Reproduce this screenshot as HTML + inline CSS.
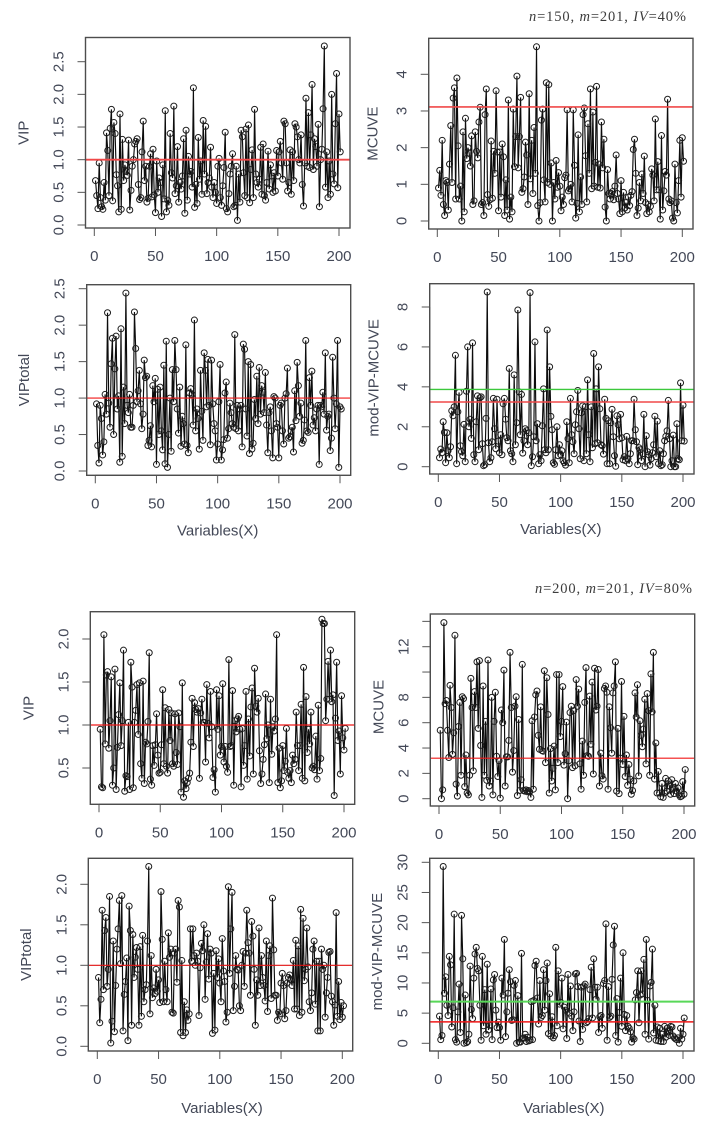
<!DOCTYPE html>
<html lang="en">
<head>
<meta charset="utf-8">
<title>VIP and MCUVE variable selection plots</title>
<style>
html,body{margin:0;padding:0;background:#fff;}
svg{display:block;filter:blur(0.35px);}
text{font-family:"Liberation Sans",Arial,sans-serif;font-size:15px;fill:#434857;}
.note,.note tspan{font-family:"Liberation Serif","DejaVu Serif",serif;font-size:14.5px;fill:#3c3c3c;}
</style>
</head>
<body>
<svg id="figure" xmlns="http://www.w3.org/2000/svg" width="716" height="1128" viewBox="0 0 716 1128">
<rect width="716" height="1128" fill="#fff"/>
<text class="note" x="529" y="21" textLength="157" lengthAdjust="spacing"><tspan font-style="italic">n</tspan>=150, <tspan font-style="italic">m</tspan>=201, <tspan font-style="italic">IV</tspan>=40%</text>
<text class="note" x="535" y="593" textLength="157" lengthAdjust="spacing"><tspan font-style="italic">n</tspan>=200, <tspan font-style="italic">m</tspan>=201, <tspan font-style="italic">IV</tspan>=80%</text>
</svg>
<script>
const xTicks=[0,50,100,150,200];

const vipA=[.68,.45,.25,.95,.42,.28,.24,.65,.38,1.41,1.14,.45,1.48,1.77,.37,1.57,1.40,.77,.60,.20,
1.70,.24,1.31,.68,.92,.82,.76,1.30,.23,.53,.90,1.00,1.24,1.28,1.32,.62,.39,.42,1.12,1.59,
.68,.90,.35,.41,.90,1.09,.43,1.16,.46,.19,.98,.50,.72,.65,.13,.92,.40,1.75,.20,.38,
.30,1.40,.80,.72,1.82,.48,.60,1.20,.35,.65,.55,.75,1.32,.18,1.45,.38,1.05,.78,.82,.58,
2.10,.27,.62,.33,1.34,.70,.98,.47,1.60,.78,1.51,.48,.65,.72,1.19,.58,.42,.65,.50,.33,
.90,1.02,.42,.30,.60,.88,1.42,.25,.20,.48,.78,.90,1.09,.28,.30,.90,.07,.78,.35,1.45,
1.35,.80,.45,1.47,.42,1.53,.34,.85,1.15,.42,1.77,.78,.65,.58,.70,1.19,.47,1.24,.45,.38,
.65,1.13,.55,.92,.75,.50,.80,.52,1.14,.75,1.12,1.28,.95,.70,1.59,1.55,.95,.52,.65,1.15,
.47,1.12,.68,1.55,1.50,1.35,1.00,.95,1.38,.62,.29,.95,1.94,.90,1.72,.88,1.38,2.15,.85,1.32,
1.20,.90,1.54,.28,1.00,1.16,1.78,2.74,.58,1.12,.42,.98,.47,2.00,.78,.63,1.55,2.32,.57,1.70,1.12];

const mcuveA=[.90,1.38,.70,2.2,.45,.15,1.1,1.05,.3,1.55,2.6,1.05,3.35,3.63,.6,3.9,2.05,.6,.95,0,
2.43,.25,2.8,1.7,2.0,1.85,1.5,2.32,.45,.55,2.43,1.9,1.72,2.7,3.1,.45,.5,.15,2.9,3.6,
.72,.4,.58,2.18,.62,1.9,1.3,3.55,1.88,.28,1.88,.65,2.1,1.75,.15,1.12,.3,3.3,.05,.65,
.25,3.05,1.48,2.3,3.95,1.45,2.3,3.37,.78,.88,1.2,2.15,1.8,.45,3.47,1.15,2.2,.75,2.55,1.3,
4.75,.42,0,.5,2.75,3.05,1.12,.52,3.77,1.05,3.72,1.0,1.58,0,1.05,.6,1.65,.92,1.32,.95,
.28,.65,.45,1.18,1.25,3.03,.82,.88,1.0,.52,3.03,1.52,.08,.48,2.35,.25,1.2,.45,2.9,3.08,
1.78,.52,2.65,1.3,3.6,.88,2.97,.95,1.6,3.67,.92,1.55,.9,2.7,1.45,2.23,.38,0,1.4,.75,
.6,.75,.8,.58,.95,1.8,.75,.6,.2,1.1,.25,.78,.35,.5,.3,.65,.42,.7,.8,1.95,
2.23,1.3,.15,.35,1.05,.55,1.28,.75,1.77,.5,.2,.45,.25,.4,1.42,1.25,.55,2.78,.85,1.62,
.85,.05,2.33,.3,.82,1.35,1.25,3.32,.6,.5,.55,.08,0,1.55,.5,.22,1.1,2.2,.65,2.27,1.63];

const vipTotalA=[.92,.35,.11,.9,.72,.22,.4,1.05,.78,2.17,.93,.6,1.47,1.82,.5,1.4,1.85,.85,1.03,.12,
1.95,.2,1.15,.65,2.44,.9,.8,1.05,.6,.6,.9,2.18,1.68,.95,1.1,1.38,.92,.58,.78,1.52,
1.28,1.3,.35,.42,.62,.33,1.17,.95,1.27,.09,1.12,.5,1.15,.55,.29,1.45,.1,1.78,.05,.5,
1.0,.27,1.39,.95,1.79,1.39,.85,.52,1.15,.34,.75,.65,.37,1.73,.35,.25,1.07,1.13,1.05,.63,
2.07,.55,.85,.72,.3,1.38,.82,.42,1.62,1.38,.88,1.53,.9,.36,1.52,.92,.65,.55,.15,.37,
.95,1.46,.15,.29,.43,1.07,1.22,.45,.58,.93,.8,.65,.6,1.87,.58,.9,.55,.85,.9,.33,
1.74,1.67,.85,.48,1.5,.24,1.46,.3,.38,.98,.72,1.3,.65,1.42,.78,1.17,1.08,.8,1.35,.63,
.25,.8,.88,.55,.18,1.02,1.0,.65,.6,.18,.9,.93,.55,.37,1.0,1.06,1.41,.45,.47,.55,
.6,.26,1.1,.69,1.49,1.17,.75,.93,.38,.42,.7,1.79,.55,.53,1.28,.9,1.37,.63,.73,.55,
.85,.9,.09,.9,.88,1.08,.78,1.62,.56,.75,.78,.28,.45,1.56,1.0,.58,.92,1.79,.05,.88,.85];

const modA=[.45,.88,.7,2.25,1.72,.2,1.7,.8,.45,1.0,2.8,2.55,3.0,5.58,.15,2.75,3.72,1.05,.75,.55,
2.12,.25,3.78,6.0,2.0,2.38,1.42,6.2,.6,.25,2.25,3.55,.85,3.45,3.5,1.15,.05,.1,2.42,8.75,
1.2,.25,.45,1.25,3.42,1.9,.9,3.38,1.28,.7,1.6,.6,3.15,3.42,2.38,1.45,1.3,4.92,.8,.65,
.25,4.6,1.1,2.2,7.85,3.75,1.6,3.62,.68,1.3,1.9,1.8,1.1,1.7,8.72,.05,.5,1.5,6.25,1.3,
2.15,.15,.6,.3,2.05,3.9,.85,.7,6.85,.85,5.0,2.52,1.85,.2,.12,.85,2.0,.55,1.1,.6,
.8,.3,.2,.08,2.25,1.4,.2,3.42,1.6,1.25,.65,2.1,2.75,3.82,1.9,.4,2.7,3.05,.3,3.0,
.65,4.35,1.6,.25,3.0,.95,5.67,1.15,3.9,1.2,5.0,2.9,1.1,1.05,.63,3.38,2.42,.15,2.3,.15,
2.2,2.87,1.5,.55,.02,2.55,2.1,1.4,2.62,1.45,.35,.5,.3,1.52,.4,.15,.65,1.3,1.3,3.38,
1.85,1.25,.1,.95,.85,.3,.65,2.62,0,1.55,.75,.6,.08,.4,.7,1.1,2.53,.5,2.28,.15,
.8,.05,.1,.65,1.3,1.52,1.8,3.32,1.4,0,.3,1.58,0,0,2.15,.4,.35,4.2,1.3,3.08,1.28];

const vipB=[.95,.28,.27,2.05,.78,1.58,1.62,.73,1.05,1.56,.3,.5,1.65,.25,.74,1.12,1.49,.76,1.05,1.87,
.23,.41,.4,1.03,.25,1.73,1.44,.27,1.03,1.17,1.47,.89,1.49,.55,.38,1.51,.32,.8,.78,1.04,
1.84,.37,.3,.76,.53,.77,1.13,.65,.44,.45,.77,1.41,.55,1.2,.52,.44,1.18,.82,1.14,.55,
.52,1.13,.68,.54,1.14,.98,.22,1.49,.16,.35,.26,.33,.38,.44,.8,1.31,.75,1.26,1.18,1.15,
1.19,.38,1.14,1.3,1.03,1.03,.57,1.47,1.02,.85,1.39,.98,.39,.48,.22,1.41,.95,1.34,.65,.75,
1.48,.57,.75,.52,.45,1.76,.75,.76,1.4,.3,1.05,.92,1.07,1.1,.95,.28,.96,.53,.76,1.39,
.37,1.07,.64,1.21,1.43,.43,1.66,1.22,1.15,1.31,.7,.32,.43,.6,.77,1.36,.84,1.0,.33,1.3,
.66,.98,.93,1.07,2.05,.33,.73,.27,.35,.76,.47,.58,.96,.45,.38,.47,.33,.65,.55,.6,
1.15,.76,.47,.76,1.24,.38,1.67,.35,1.33,.68,.95,.78,1.15,.5,.52,.48,.87,.37,1.23,.47,
.61,2.23,2.18,2.18,1.05,1.3,1.74,1.3,1.87,1.27,1.35,.18,1.08,1.73,.82,.93,.43,1.34,.85,.71,.96];

const mcuveB=[5.4,0,.7,13.9,7.5,7.75,5.4,3.25,8.95,7.2,3.5,5.2,12.9,1.15,.2,5.7,7.6,1.85,8.05,7.9,
.95,3.45,.45,.3,1.85,9.5,7.2,2.2,8.45,7.2,10.8,5.55,10.9,4.2,.1,8.9,1.85,6.1,1.45,10.95,
1,1.4,8,.3,6.1,8.4,3.35,1.75,3,.05,7,6,10.15,1,3.3,3.3,4.6,11.55,7.2,2.1,
3.8,7.3,8.05,.25,6.25,.65,1.5,10.6,.65,.6,.7,.55,.65,.55,.1,6.15,.75,6.45,8.2,8.5,
5,3.9,7.25,3.8,3.75,10.1,2.85,9.55,6.65,.45,3.95,1.4,2.4,4.15,.7,9.8,2.85,9.8,4.9,6.1,
8.85,2.65,3.55,6.05,0,3,6.8,7.3,2.45,6.95,2.6,9.4,7.3,8.65,2.75,.75,4.55,1.85,7.6,10.35,
3.4,3.35,8.1,4.3,9.2,1.95,10.3,7,7.3,10.2,1,3.6,1.8,1.55,8.7,8.9,8.4,.75,7.25,5.6,
3.6,8.35,8.9,10.8,.6,5.55,.4,3.2,9.25,2.7,6.5,1.75,3.45,1.05,2.7,1.55,.35,.65,1.4,8.35,
6.45,9,1.8,6.15,5,4.1,5.5,7.85,2.75,8.3,6.95,1.85,9.85,6.85,11.55,1.55,4.4,.45,2.15,.45,
.15,1.2,.1,.45,1.6,.6,1.4,1,.35,1.5,.9,.4,1.2,.6,.85,.3,.15,.2,1.35,.35,2.3];

const vipTotalB=[.85,.29,.58,1.68,.7,1.43,1.59,.74,.95,1.85,.04,.31,1.3,.18,.75,1.2,1.45,1.8,1.02,1.86,
.19,.64,.8,1.09,.07,1.73,1.43,.26,1.38,.85,1.1,1.22,.95,.26,1.23,.37,1.37,.55,.7,.76,
1.3,2.22,.4,1.12,.6,.72,.65,.95,.68,.82,.54,1.91,1.32,.55,1.05,.7,.55,1.4,1.1,1.2,
.42,.41,1.15,1.2,.79,1.8,1.72,.17,1.06,.13,.55,.17,.45,.32,.4,1.45,1.05,1.45,1.12,1.0,
1.15,1.05,.38,.97,1.27,1.18,1.5,.58,1.04,1.39,.83,1.2,1.15,.16,.9,.2,1.18,.85,1.08,.78,
.55,1.33,.93,.8,.3,.42,1.97,.9,1.45,1.9,.44,.74,1.12,.95,.94,.5,.44,1.0,1.17,.74,
1.15,1.68,1.28,1.15,.63,1.54,1.36,.95,.26,.82,.63,1.46,.75,1.12,.85,.75,.56,1.3,.43,1.12,
1.24,.59,1.83,1.19,.63,.63,.32,.42,.4,.78,.9,.75,.34,.44,.78,.85,.88,.82,.75,1.06,
.46,1.31,.46,1.24,.38,1.69,.42,1.58,.81,.95,1.46,.98,.55,.44,.66,1.2,1.3,.52,1.05,.19,
1.05,.19,1.2,.95,1.0,.36,.66,.85,1.16,1.17,.62,.55,.26,.51,1.65,.37,.8,.33,.54,.36,.5];

const modB=[4.5,.6,1.3,29.3,8.3,11,6.3,4.6,14.4,13,2.7,5.9,21.4,.6,.2,5.2,9.8,1.8,21.2,14,
0,8,.1,.3,1.5,12.8,5.6,4.1,10.8,14.8,15.9,12.4,12,6.3,.5,14.4,2.9,8.9,1.5,13.1,
2.2,3,9,.6,10.5,11.4,5.5,2.6,3.5,2.6,.5,10.8,8,17.2,1.1,5.2,8.3,12.2,10.2,3.8,
3.9,9.6,10.4,0,7.9,.2,.2,14.9,.8,.9,1.5,.3,1,.4,.5,6.9,.6,7.1,12.9,13.6,
7.5,3.2,10.4,4.3,4.6,12.2,5.5,10.4,13.3,1.6,8.2,1.2,4.4,.9,1.3,15.9,2.9,12,6.5,6.8,
10.8,2.4,6,5.5,.8,11.4,5,9.5,4.5,2.1,5.2,11.5,11.6,9.4,3.7,.3,9.3,2.3,9.5,9.8,
3.4,3.6,4.1,8.9,12.6,4.2,14,9.3,7.3,9.3,1.8,4.4,4.6,2.5,9.9,10.4,19.8,.5,9.4,4.3,
4.5,10.6,16.3,19.4,1.3,7.4,.2,5.1,10.8,2.8,15,4.8,2.1,4.6,2.8,2.5,1.9,.2,.9,.7,
7.2,8.4,12,3.4,8,12,8.2,13.9,1.5,17.2,7.1,.7,9.5,10.1,15.6,1.7,6.3,.5,2.7,.4,
2.5,.3,1.5,.3,2.8,1,2.5,2,1.3,2.8,2.7,1.2,.9,.7,.6,.9,0,2.5,.7,1.5,4.2];

const vipTickValues=["0.0","0.5","1.0","1.5","2.0","2.5"];
const mcuveTickValues=["0","1","2","3","4"];
const modATickValues=["0","2","4","6","8"];
const vipBTickValues=["0.5","1.0","1.5","2.0"];
const vipTotalBTickValues=["0.0","0.5","1.0","1.5","2.0"];
const mcuveBTicks=[0,2,4,6,8,10,12,14];
const mcuveBTickLabels=["0","2","4","6","8","","12",""];
const modBTickValues=["0","5","10","15","20","25","30"];

const vipAThreshold=[1.0];
const mcuveAThreshold=[3.11];
const vipTotalAThreshold=[1.0];
const modARedThreshold=[3.24];
const modAGreenThreshold=[3.87];
const vipBThreshold=[1.0];
const mcuveBThreshold=[3.2];
const vipTotalBThreshold=[1.0];
const modBRedThreshold=[3.55];
const modBGreenThreshold=[6.9];

const svg=document.getElementById('figure');
const NS='http://www.w3.org/2000/svg';

function mk(tag,attrs,parent){
  const e=document.createElementNS(NS,tag);
  for(const k in attrs)e.setAttribute(k,attrs[k]);
  parent.appendChild(e);
  return e;
}

function drawPanel(p){
  const g=mk('g',{},svg);
  
  
  const sx=v=>p.x0+(p.x200-p.x0)*v/200;
  const sy=v=>p.yA+(p.yB-p.yA)*(v-p.vA)/(p.vB-p.vA);

  // x axis
  const xAxis=mk('g',{},g);
  
  
  mk('line',{x1:sx(xTicks[0]),x2:sx(xTicks[xTicks.length-1]),y1:p.bottom,y2:p.bottom,stroke:'#555','stroke-width':1},xAxis);
  xTicks.forEach(t=>{
    mk('line',{x1:sx(t),x2:sx(t),y1:p.bottom,y2:p.bottom+8,stroke:'#555','stroke-width':1},xAxis);
    const lab=mk('text',{x:sx(t),y:p.bottom+33,'text-anchor':'middle'},xAxis);
    
    
    lab.textContent=t;
  });

  // y axis
  const yAxis=mk('g',{},g);
  
  
  const yv=p.yTicks.map(Number);
  mk('line',{x1:p.left,x2:p.left,y1:sy(yv[0]),y2:sy(yv[yv.length-1]),stroke:'#555','stroke-width':1},yAxis);
  yv.forEach((t,i)=>{
    const py=sy(t);
    mk('line',{x1:p.left-8,x2:p.left,y1:py,y2:py,stroke:'#555','stroke-width':1},yAxis);
    const txt=p.yLabels[i];
    if(txt!==''){
      const lab=mk('text',{transform:'translate('+(p.left-22)+' '+py+') rotate(-90)','text-anchor':'middle'},yAxis);
      
      
      lab.textContent=txt;
    }
  });

  // y axis title
  const yTitle=mk('text',{transform:'translate('+(p.left-p.titleOffset)+' '+((p.top+p.bottom)/2+(p.titleDy||0))+') rotate(-90)','text-anchor':'middle'},g);
  
  
  yTitle.textContent=p.yTitle;

  // x axis title
  if(p.xTitle){
    const xTitle=mk('text',{x:(p.left+p.right)/2+p.xTitleDx,y:p.bottom+p.xTitleOffset,'text-anchor':'middle'},g);
    
    
    xTitle.textContent=p.xTitle;
  }

  // series line
  const pts=p.values.map((v,i)=>sx(i+1).toFixed(2)+','+sy(v).toFixed(2)).join(' ');
  const line=mk('polyline',{points:pts,fill:'none',stroke:'#0c0c0c','stroke-width':1.15},g);
  
  

  // series points
  const ptsGroup=mk('g',{},g);
  
  
  p.values.forEach((v,i)=>{
    const c=mk('circle',{cx:sx(i+1),cy:sy(v),r:3,fill:'none',stroke:'#1c1c1c','stroke-width':1},ptsGroup);
    
    
  });

  // threshold lines
  p.thresholds.forEach(th=>{
    const l=mk('line',{x1:p.left,x2:p.right,y1:sy(th.value[0]),y2:sy(th.value[0]),stroke:th.color,'stroke-width':th.width},g);
    
    
  });

  // box
  const box=mk('rect',{x:p.left,y:p.top,width:p.right-p.left,height:p.bottom-p.top,fill:'none',stroke:'#4d4d4d','stroke-width':1.4},g);
  
  
}

const RED='#f01818',SOFTRED='#f04848',GREEN='#3cc83c';

drawPanel({name:'vip-40',values:vipA,left:85.5,right:350,top:37.5,bottom:228,x0:94.3,x200:339,
  vA:0,yA:225,vB:2.5,yB:61.7,yTicks:vipTickValues,yLabels:vipTickValues,yTitle:'VIP',titleOffset:57,titleDy:0,
  thresholds:[{value:vipAThreshold,color:SOFTRED,label:'red',width:1.8}]});
drawPanel({name:'mcuve-40',values:mcuveA,left:428.7,right:693,top:38.3,bottom:229,x0:437.3,x200:682.3,
  vA:0,yA:221,vB:4,yB:74.3,yTicks:mcuveTickValues,yLabels:mcuveTickValues,yTitle:'MCUVE',titleOffset:51,titleDy:0,
  thresholds:[{value:mcuveAThreshold,color:SOFTRED,label:'red',width:1.7}]});
drawPanel({name:'viptotal-40',values:vipTotalA,left:86.7,right:350.7,top:284.7,bottom:475.3,x0:95.3,x200:340,
  vA:0,yA:471,vB:2.5,yB:288.7,yTicks:vipTickValues,yLabels:vipTickValues,yTitle:'VIPtotal',titleOffset:57.5,titleDy:0,
  xTitle:'Variables(X)',xTitleOffset:60,xTitleDx:-1,
  thresholds:[{value:vipTotalAThreshold,color:RED,label:'red',width:1.2}]});
drawPanel({name:'mod-vip-mcuve-40',values:modA,left:429.7,right:694,top:283.7,bottom:474,x0:438.3,x200:683,
  vA:0,yA:466.7,vB:8,yB:307,yTicks:modATickValues,yLabels:modATickValues,yTitle:'mod-VIP-MCUVE',titleOffset:51,titleDy:-1,
  xTitle:'Variables(X)',xTitleOffset:60,xTitleDx:-1,
  thresholds:[{value:modAGreenThreshold,color:GREEN,label:'green',width:1.3},{value:modARedThreshold,color:SOFTRED,label:'red',width:1.5}]});
drawPanel({name:'vip-80',values:vipB,left:90.3,right:354.7,top:611.7,bottom:804.3,x0:99,x200:344,
  vA:.5,yA:768,vB:2,yB:639,yTicks:vipBTickValues,yLabels:vipBTickValues,yTitle:'VIP',titleOffset:57,titleDy:0,
  thresholds:[{value:vipBThreshold,color:RED,label:'red',width:1.2}]});
drawPanel({name:'mcuve-80',values:mcuveB,left:430.3,right:694.7,top:614,bottom:806,x0:439,x200:684,
  vA:0,yA:798.7,vB:12,yB:646.7,yTicks:mcuveBTicks,yLabels:mcuveBTickLabels,yTitle:'MCUVE',titleOffset:47,titleDy:-3,
  thresholds:[{value:mcuveBThreshold,color:RED,label:'red',width:1.2}]});
drawPanel({name:'viptotal-80',values:vipTotalB,left:88.3,right:352.7,top:858.3,bottom:1051,x0:97.3,x200:342.3,
  vA:0,yA:1046.3,vB:2,yB:884.3,yTicks:vipTotalBTickValues,yLabels:vipTotalBTickValues,yTitle:'VIPtotal',titleOffset:57.5,titleDy:0,
  xTitle:'Variables(X)',xTitleOffset:62,xTitleDx:1.5,
  thresholds:[{value:vipTotalBThreshold,color:'#e01010',label:'red',width:1.1}]});
drawPanel({name:'mod-vip-mcuve-80',values:modB,left:429.7,right:694,top:858.3,bottom:1051,x0:438.3,x200:683,
  vA:0,yA:1043.3,vB:30,yB:862.3,yTicks:modBTickValues,yLabels:modBTickValues,yTitle:'mod-VIP-MCUVE',titleOffset:47.5,titleDy:-3,
  xTitle:'Variables(X)',xTitleOffset:62,xTitleDx:2,
  thresholds:[{value:modBGreenThreshold,color:'#58d858',label:'green',width:2},{value:modBRedThreshold,color:RED,label:'red',width:1.4}]});
</script>
</body>
</html>
